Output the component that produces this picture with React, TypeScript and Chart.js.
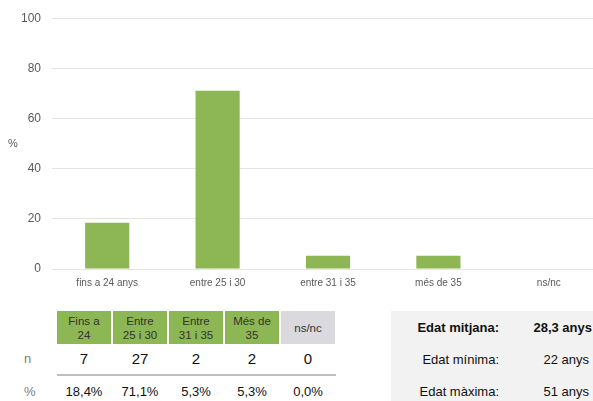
import React, { useEffect, useRef } from "react";
import { Chart, registerables } from "chart.js";

Chart.register(...registerables);

const categories = ["fins a 24 anys", "entre 25 i 30", "entre 31 i 35", "més de 35", "ns/nc"];
const percentValues = [18.4, 71.1, 5.3, 5.3, 0];
const tableHeaders = [["Fins a", "24"], ["Entre", "25 i 30"], ["Entre", "31 i 35"], ["Més de", "35"], ["ns/nc"]];
const counts = [7, 27, 2, 2, 0];
const percentLabels = ["18,4%", "71,1%", "5,3%", "5,3%", "0,0%"];
const statLabels = ["Edat mitjana:", "Edat mínima:", "Edat màxima:"];
const statValues = ["28,3 anys", "22 anys", "51 anys"];

const FONT = "'Liberation Sans', Arial, sans-serif";
const GREEN = "#8DB654";

export default function App() {
  const ref = useRef<HTMLCanvasElement | null>(null);

  useEffect(() => {
    if (!ref.current) return;
    const chart = new Chart(ref.current, {
      type: "bar",
      data: {
        labels: categories,
        datasets: [
          {
            data: percentValues,
            backgroundColor: GREEN,
            borderWidth: 0,
            barPercentage: 0.4,
            categoryPercentage: 1,
          },
        ],
      },
      options: {
        animation: false,
        responsive: false,
        maintainAspectRatio: false,
        layout: { padding: { top: 18, right: 6, left: 0, bottom: 0 } },
        plugins: { legend: { display: false }, tooltip: { enabled: false } },
        scales: {
          x: {
            grid: { display: false, drawTicks: false },
            border: { display: false },
            ticks: { color: "#595959", font: { family: FONT, size: 10 }, padding: 8, maxRotation: 0 },
            afterFit: (s: any) => {
              s.height = 30;
            },
          },
          y: {
            min: 0,
            max: 100,
            ticks: { stepSize: 20, color: "#595959", font: { family: FONT, size: 12 }, padding: 11 },
            grid: { color: "#E4E4E4", lineWidth: 1, drawTicks: false },
            border: { display: false },
            afterFit: (s: any) => {
              s.width = 52;
            },
          },
        },
      },
    });
    return () => chart.destroy();
  }, []);

  const cellW = 54;
  const gap = 2;
  const left0 = 57;

  return (
    <div
      style={{
        position: "fixed",
        left: 0,
        top: 0,
        width: 593,
        height: 401,
        overflow: "hidden",
        background: "#fff",
        fontFamily: FONT,
      }}
    >
      <canvas ref={ref} width={610} height={299} style={{ position: "absolute", left: 0, top: 0, width: 610, height: 299 }} />
      <div style={{ position: "absolute", left: 8, top: 137, fontSize: 11, color: "#595959" }}>%</div>

      {tableHeaders.map((h, i) => (
        <div
          key={"h" + i}
          style={{
            position: "absolute",
            left: left0 + i * (cellW + gap),
            top: 311,
            width: cellW,
            height: 33,
            background: i < 4 ? GREEN : "#D9D9DE",
            color: "#333",
            fontSize: 11.5,
            lineHeight: "14px",
            display: "flex",
            flexDirection: "column",
            alignItems: "center",
            justifyContent: "center",
            textAlign: "center",
          }}
        >
          {h.map((t, j) => (
            <div key={j}>{t}</div>
          ))}
        </div>
      ))}

      <div style={{ position: "absolute", left: 24, top: 351, fontSize: 13, color: "#808080" }}>n</div>
      {counts.map((c, i) => (
        <div
          key={"n" + i}
          style={{
            position: "absolute",
            left: left0 + i * (cellW + gap),
            top: 350,
            width: cellW,
            textAlign: "center",
            fontSize: 15,
            color: "#111",
          }}
        >
          {c}
        </div>
      ))}
      <div style={{ position: "absolute", left: 57, top: 374, width: 279, height: 2, background: "#BFBFBF" }} />

      <div style={{ position: "absolute", left: 24, top: 384, fontSize: 13, color: "#808080" }}>%</div>
      {percentLabels.map((p, i) => (
        <div
          key={"p" + i}
          style={{
            position: "absolute",
            left: left0 + i * (cellW + gap),
            top: 384,
            width: cellW,
            textAlign: "center",
            fontSize: 13,
            color: "#111",
          }}
        >
          {p}
        </div>
      ))}

      <div style={{ position: "absolute", left: 391, top: 311, width: 202, height: 90, background: "#F2F2F2" }} />
      {statLabels.map((l, i) => (
        <React.Fragment key={"s" + i}>
          <div
            style={{
              position: "absolute",
              left: 391,
              width: 108,
              top: 320 + i * 32,
              textAlign: "right",
              fontSize: 13,
              fontWeight: i === 0 ? "bold" : "normal",
              color: "#111",
            }}
          >
            {l}
          </div>
          <div
            style={{
              position: "absolute",
              left: 500,
              width: i === 0 ? 92 : 89,
              top: 320 + i * 32,
              textAlign: "right",
              fontSize: 13,
              fontWeight: i === 0 ? "bold" : "normal",
              color: "#111",
            }}
          >
            {statValues[i]}
          </div>
        </React.Fragment>
      ))}
    </div>
  );
}
